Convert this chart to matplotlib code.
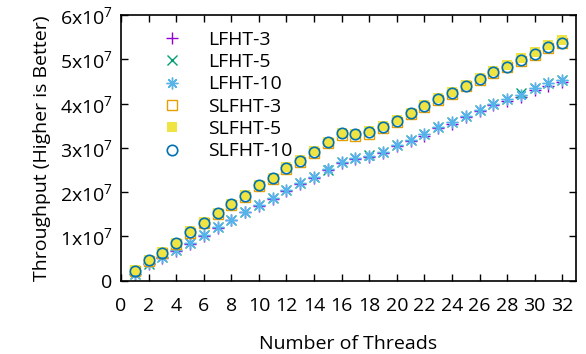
import matplotlib
matplotlib.use("Agg")
import matplotlib.pyplot as plt
from matplotlib.ticker import FuncFormatter, MultipleLocator

plt.rcParams['font.family'] = ['Open Sans', 'DejaVu Sans']
plt.rcParams['mathtext.fontset'] = 'custom'
plt.rcParams['mathtext.rm'] = 'Open Sans'
plt.rcParams['mathtext.default'] = 'regular'

threads = list(range(1, 33))

# throughput values in units of 1e7
lfht_3 = [0.14, 0.37, 0.52, 0.67, 0.82, 1.01, 1.18, 1.36, 1.54, 1.69, 1.85, 2.03,
          2.18, 2.33, 2.49, 2.65, 2.75, 2.80, 2.89, 3.04, 3.16, 3.28, 3.44, 3.55,
          3.69, 3.83, 3.96, 4.07, 4.16, 4.30, 4.41, 4.49]
lfht_5 = [0.15, 0.38, 0.54, 0.69, 0.84, 1.03, 1.20, 1.38, 1.56, 1.71, 1.87, 2.05,
          2.21, 2.35, 2.51, 2.67, 2.78, 2.83, 2.91, 3.06, 3.18, 3.31, 3.47, 3.58,
          3.72, 3.86, 3.99, 4.10, 4.24, 4.35, 4.46, 4.54]
lfht_10 = [0.15, 0.39, 0.54, 0.69, 0.84, 1.03, 1.20, 1.38, 1.56, 1.71, 1.87, 2.05,
           2.20, 2.35, 2.52, 2.67, 2.78, 2.82, 2.91, 3.06, 3.18, 3.31, 3.47, 3.58,
           3.72, 3.86, 3.99, 4.10, 4.20, 4.35, 4.46, 4.54]
slfht_3 = [0.21, 0.45, 0.62, 0.83, 1.08, 1.29, 1.50, 1.71, 1.90, 2.13, 2.29, 2.52,
           2.69, 2.89, 3.11, 3.29, 3.26, 3.32, 3.44, 3.58, 3.76, 3.92, 4.09, 4.23,
           4.39, 4.53, 4.69, 4.82, 4.97, 5.11, 5.27, 5.37]
slfht_5 = [0.23, 0.47, 0.64, 0.85, 1.11, 1.32, 1.53, 1.74, 1.93, 2.17, 2.33, 2.56,
           2.72, 2.93, 3.14, 3.34, 3.32, 3.38, 3.49, 3.62, 3.80, 3.96, 4.13, 4.27,
           4.43, 4.58, 4.74, 4.88, 5.03, 5.17, 5.33, 5.45]
slfht_10 = [0.22, 0.46, 0.63, 0.84, 1.10, 1.31, 1.52, 1.73, 1.92, 2.16, 2.31, 2.54,
            2.71, 2.91, 3.13, 3.33, 3.31, 3.37, 3.47, 3.60, 3.78, 3.94, 4.11, 4.25,
            4.41, 4.55, 4.71, 4.84, 4.99, 5.12, 5.28, 5.38]

fig = plt.figure(figsize=(5.86, 3.54), dpi=100)
ax = fig.add_axes([0.2065, 0.2076, 0.7765, 0.7492])

fs = 14
ms = 7.5
ax.plot(threads, [v * 1e7 for v in lfht_3], ls='none', marker='+', ms=ms + 1,
        mew=1, color='#9400D3', label='LFHT-3')
ax.plot(threads, [v * 1e7 for v in lfht_5], ls='none', marker='x', ms=ms,
        mew=1, color='#009E73', label='LFHT-5')
ax.plot(threads, [v * 1e7 for v in lfht_10], ls='none', marker=(8, 2, 0), ms=ms + 1,
        mew=1, color='#56B4E9', label='LFHT-10')
ax.plot(threads, [v * 1e7 for v in slfht_3], ls='none', marker='s', ms=ms,
        mew=1, mfc='none', color='#E69F00', label='SLFHT-3')
ax.plot(threads, [v * 1e7 for v in slfht_5], ls='none', marker='s', ms=ms,
        mew=0, color='#F0E442', label='SLFHT-5')
ax.plot(threads, [v * 1e7 for v in slfht_10], ls='none', marker='o', ms=ms,
        mew=1.2, mfc='none', color='#0072B2', label='SLFHT-10')

ax.set_xlim(0, 33)
ax.set_ylim(0, 6e7)
ax.xaxis.set_major_locator(MultipleLocator(2))
ax.yaxis.set_major_locator(MultipleLocator(1e7))


def yfmt(v, pos):
    n = int(round(v / 1e7))
    if n == 0:
        return '0'
    return '%dx10$^{7}$' % n


ax.yaxis.set_major_formatter(FuncFormatter(yfmt))
ax.tick_params(direction='in', length=5, width=1, top=True, right=True,
               labelsize=fs, pad=6, colors='black')
ax.tick_params(axis='x', pad=12)
for s in ax.spines.values():
    s.set_linewidth(1.2)

ax.set_xlabel('Number of Threads', fontsize=fs, labelpad=14)
ax.set_ylabel('Throughput (Higher is Better)', fontsize=fs, labelpad=6)

ax.legend(loc='upper left', bbox_to_anchor=(0.055, 0.985), frameon=False,
          fontsize=fs, handletextpad=1.1, labelspacing=0.22,
          borderaxespad=0.2, handlelength=1.5)

fig.savefig('out.png', dpi=100)
